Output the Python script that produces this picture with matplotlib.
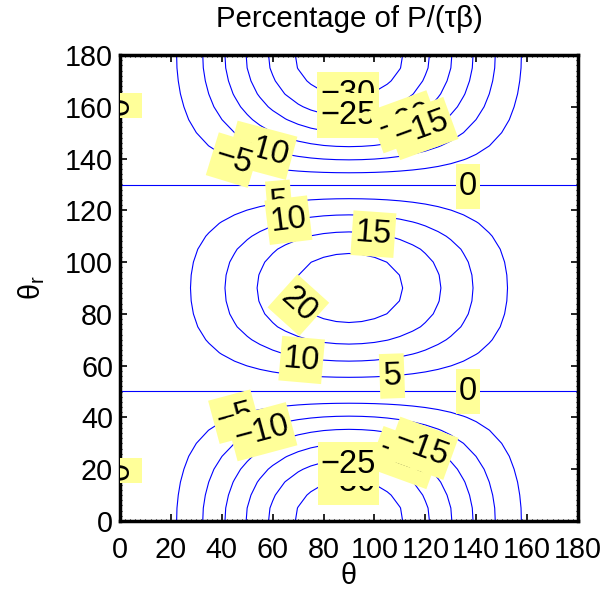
import numpy as np
import matplotlib
matplotlib.use("Agg")
import matplotlib.pyplot as plt
from matplotlib.ticker import MultipleLocator
from matplotlib.path import Path

plt.rcParams['font.family'] = ['Liberation Sans', 'DejaVu Sans']
plt.rcParams['mathtext.fontset'] = 'custom'
plt.rcParams['mathtext.rm'] = 'Liberation Sans'
plt.rcParams['mathtext.it'] = 'Liberation Sans'
plt.rcParams['mathtext.default'] = 'regular'

# ---- data ----
theta = np.arange(0, 181, 5)          # x grid, degrees
theta_r = np.arange(0, 181, 5)        # y grid, degrees

# relative weight along theta (peak = 1 at 90 deg)
theta_weight = [0.002, 0.008, 0.03, 0.067, 0.117, 0.179, 0.25, 0.329, 0.413, 0.5,
                0.587, 0.671, 0.75, 0.821, 0.883, 0.933, 0.97, 0.992, 1.0,
                0.992, 0.97, 0.933, 0.883, 0.821, 0.75, 0.671, 0.587, 0.5,
                0.413, 0.329, 0.25, 0.179, 0.117, 0.067, 0.03, 0.008, 0.002]

# percentage along theta_r at theta = 90 deg
thetar_percent = [-34.5, -34.1, -32.7, -30.6, -27.7, -24.1, -20.0, -15.4, -10.5,
                  -5.5, -0.4, 4.6, 8.6, 12.6, 16.2, 19.3, 21.4, 22.6, 23.0,
                  22.6, 21.4, 19.3, 16.2, 12.6, 8.6, 4.6, -0.4, -5.5, -10.5,
                  -15.4, -20.0, -24.1, -27.7, -30.6, -32.7, -34.1, -34.5]

levels = [-30, -25, -20, -15, -10, -5, 0, 5, 10, 15, 20]

# contour labels (drawn in this order)
label_values = [-30, -25, -20, -15, -10, -5, 0, 5, 10, 15, 20,
                10, 5, 0, -5, -10, -20, -15, -30, -25, 0, 0]
label_theta = [89.6, 89.6, 112.0, 118.6, 55.7, 44.5, 136.8, 62.6, 66.2, 99.6, 70.1,
               71.4, 106.9, 136.8, 45.2, 55.7, 112.0, 118.6, 89.8, 89.8, 0.0, 0.0]
label_thetar = [164.7, 156.5, 154.2, 151.6, 143.2, 139.4, 129.3, 122.9, 116.2, 110.8, 83.4,
                62.2, 56.0, 50.1, 40.3, 34.5, 24.5, 28.1, 15.0, 22.0, 160.5, 19.5]
label_rot = [0, 0, 20, 20, -15, -17, 0, 5, 7, -4, -42,
             -5, 2, 0, 15, 15, -20, -20, 0, 0, 90, 90]

Z = np.outer(thetar_percent, theta_weight)


def label_box(x0, y0, width, height, mutation_size):
    """Rectangle with small side padding and taller top/bottom padding."""
    px = 0.1 * mutation_size
    py = 0.21 * mutation_size
    x0, y0 = x0 - px, y0 - py
    x1, y1 = x0 + width + 2 * px, y0 + height + 2 * py
    return Path([(x0, y0), (x1, y0), (x1, y1), (x0, y1), (x0, y0)], closed=True)


fig = plt.figure(figsize=(6.05, 5.90), dpi=100)
ax = fig.add_axes([120 / 605, 1 - 521 / 590, 458 / 605, 466 / 590])

ax.contour(theta, theta_r, Z, levels=levels, colors='#0000ff',
           linewidths=0.8, linestyles='solid')

for v, x, y, r in zip(label_values, label_theta, label_thetar, label_rot):
    ax.text(x, y, str(v).replace('-', '\u2212'), fontsize=23.5, rotation=r,
            rotation_mode='anchor', ha='center', va='center', color='black',
            clip_on=True,
            bbox=dict(boxstyle=label_box, facecolor='#ffff99',
                      edgecolor='none'))

ax.set_xlim(0, 180)
ax.set_ylim(0, 180)
ax.set_xticks(np.arange(0, 181, 20))
ax.set_yticks(np.arange(0, 181, 20))
ax.xaxis.set_minor_locator(MultipleLocator(2))
ax.yaxis.set_minor_locator(MultipleLocator(2))
ax.tick_params(which='major', direction='in', top=True, right=True,
               length=5, width=1.2, labelsize=20.7, color='black')
ax.tick_params(axis='x', which='major', pad=11)
ax.tick_params(axis='y', which='major', pad=5)
ax.tick_params(which='minor', direction='in', top=True, right=True,
               length=1.5, width=0.8, color='black')
for s in ax.spines.values():
    s.set_linewidth(2.5)

ax.set_xlabel('\u03b8', fontsize=20.7, labelpad=-2)
ax.set_ylabel(r'$\theta_r$', fontsize=20.7, labelpad=13)
ax.set_title('Percentage of P/(\u03c4\u03b2)', fontsize=21.2, pad=20)

fig.savefig('out.png', dpi=100)
